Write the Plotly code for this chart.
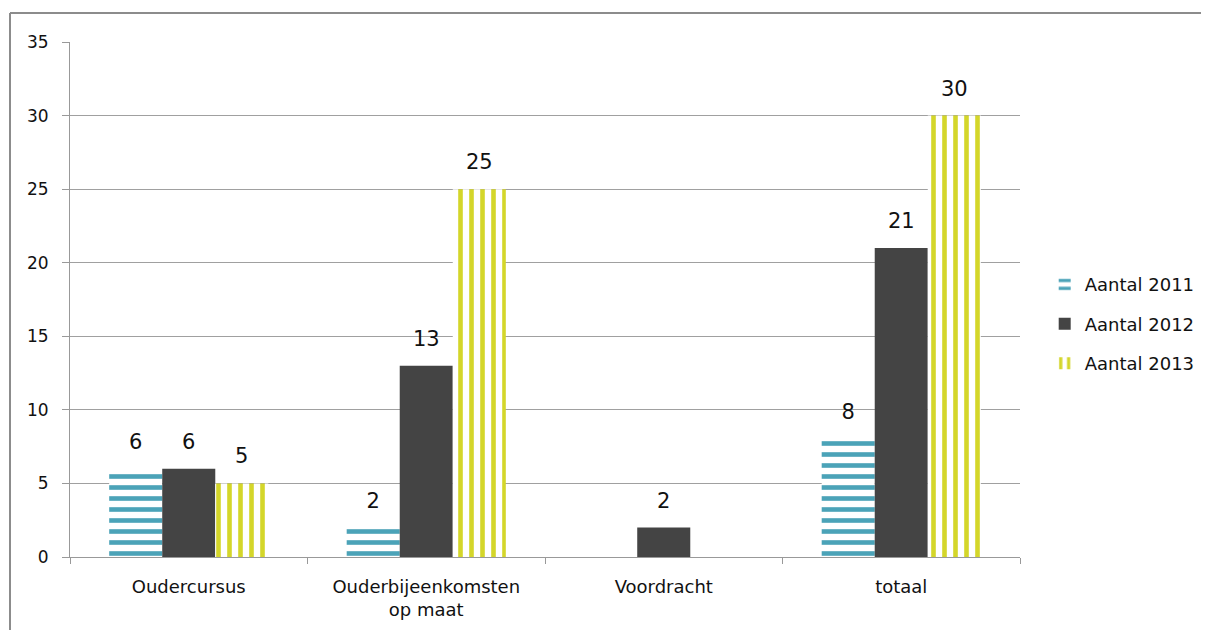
import plotly.graph_objects as go

categories = ["Oudercursus", "Ouderbijeenkomsten<br>op maat", "Voordracht", "totaal"]
series_names = ["Aantal 2011", "Aantal 2012", "Aantal 2013"]
values_2011 = [6, 2, None, 8]
values_2012 = [6, 13, 2, 21]
values_2013 = [5, 25, None, 30]
y_ticks = [0, 5, 10, 15, 20, 25, 30, 35]

FONT = "DejaVu Sans"
W, H = 1201, 622          # page body has an 8px margin
ML, MR, MT, MB = 62, 189, 34, 73
BARGAP = 0.33

series = [values_2011, values_2012, values_2013]
markers = [
    dict(color="white", line=dict(width=0),
         pattern=dict(shape="-", fgcolor="#4BA3B8", bgcolor="white", fgopacity=1,
                      size=11, solidity=0.42, fillmode="replace")),
    dict(color="#444444", line=dict(width=0)),
    dict(color="white", line=dict(width=0),
         pattern=dict(shape="|", fgcolor="#D4D62A", bgcolor="white", fgopacity=1,
                      size=11, solidity=0.42, fillmode="replace")),
]

fig = go.Figure()
for i, (name, vals) in enumerate(zip(series_names, series)):
    fig.add_trace(go.Bar(name=name, x=categories, y=vals, marker=markers[i],
                         offsetgroup=str(i), legendgroup=str(i), hoverinfo="y"))
for i, vals in enumerate(series):
    fig.add_trace(go.Scatter(
        x=categories, y=vals, mode="markers+text",
        text=["" if v is None else str(v) for v in vals],
        textposition="top center", offsetgroup=str(i), showlegend=False,
        marker=dict(size=22, color="rgba(0,0,0,0)"), cliponaxis=False,
        textfont=dict(family=FONT, size=21, color="#111111"), hoverinfo="skip"))

pw = W - ML - MR
ph = H - MT - MB
bx = (2 - ML) / pw
by = (H - MB - 5) / ph
fig.add_shape(type="line", xref="paper", yref="paper", x0=bx, x1=1.3, y0=by, y1=by,
              line=dict(color="#8C8C8C", width=2))
fig.add_shape(type="line", xref="paper", yref="paper", x0=bx, x1=bx, y0=by, y1=-0.3,
              line=dict(color="#8C8C8C", width=2))

fig.update_layout(
    width=W, height=H,
    margin=dict(l=ML, r=MR, t=MT, b=MB, autoexpand=False),
    paper_bgcolor="white", plot_bgcolor="white",
    barmode="group", bargap=BARGAP, bargroupgap=0,
    scattermode="group", scattergap=BARGAP,
    font=dict(family=FONT, size=16, color="#111111"),
    showlegend=True,
    legend=dict(x=1.026, y=0.452, xanchor="left", yanchor="middle",
                font=dict(family=FONT, size=18), itemwidth=30,
                tracegroupgap=13, bgcolor="rgba(0,0,0,0)"),
    xaxis=dict(showgrid=False, showline=True, linecolor="#999999", linewidth=1,
               ticks="outside", tickson="boundaries", ticklen=6, tickcolor="#999999",
               ticklabelstandoff=13,
               tickfont=dict(family=FONT, size=18)),
    yaxis=dict(range=[0, 35], tickvals=y_ticks, showgrid=True, gridcolor="#A0A0A0",
               gridwidth=1, showline=True, linecolor="#999999", linewidth=1,
               ticks="outside", ticklen=7, tickcolor="#999999", zeroline=False,
               ticklabelstandoff=10,
               tickfont=dict(family=FONT, size=17)),
)

fig.write_html("out.html")
